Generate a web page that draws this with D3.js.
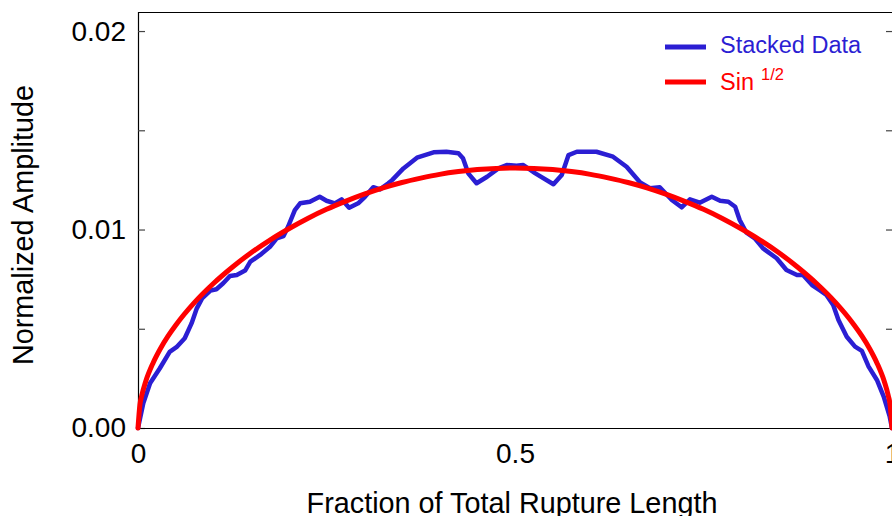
<!DOCTYPE html>
<html>
<head>
<meta charset="utf-8">
<script src="https://cdn.jsdelivr.net/npm/d3@7"></script>
<style>
  html, body { margin: 0; padding: 0; background: #fff; }
  svg { display: block; font-family: "Liberation Sans", Arial, Helvetica, sans-serif; }
</style>
</head>
<body>
<svg id="chart" width="892" height="516"></svg>
<script>
// ---- data ----
const seriesNames = ["Stacked Data", "Sin 1/2"];
const stackedX = [0, 0.007, 0.016, 0.029, 0.042, 0.051, 0.062, 0.071, 0.078, 0.085, 0.096, 0.104, 0.113, 0.122, 0.131, 0.142,
  0.149, 0.162, 0.175, 0.184, 0.193, 0.199, 0.208, 0.215, 0.228, 0.241, 0.250, 0.261, 0.270, 0.280, 0.292, 0.301,
  0.312, 0.321, 0.332, 0.337, 0.352, 0.370, 0.392, 0.409, 0.425, 0.431, 0.438, 0.449, 0.463, 0.478, 0.489, 0.502,
  0.511, 0.527, 0.551, 0.562, 0.571, 0.582, 0.608, 0.630, 0.648, 0.666, 0.679, 0.692, 0.708, 0.721, 0.732, 0.745,
  0.761, 0.772, 0.783, 0.792, 0.798, 0.807, 0.818, 0.829, 0.847, 0.860, 0.874, 0.882, 0.894, 0.905, 0.913, 0.922,
  0.929, 0.940, 0.951, 0.960, 0.969, 0.980, 0.989, 0.997, 1.0];
const stackedY = [0, 0.00124, 0.00225, 0.00301, 0.00384, 0.00407, 0.00452, 0.00527, 0.00603, 0.00653, 0.00692, 0.00699, 0.00729, 0.00766, 0.00771, 0.00793,
  0.00838, 0.00872, 0.00913, 0.00956, 0.00967, 0.01014, 0.01098, 0.01132, 0.01140, 0.01165, 0.01145, 0.01132, 0.01152, 0.01110, 0.01132, 0.01165,
  0.01213, 0.01202, 0.01233, 0.01249, 0.01308, 0.01362, 0.01389, 0.01392, 0.01384, 0.01359, 0.01283, 0.01233, 0.01266, 0.01308, 0.01325, 0.01321,
  0.01325, 0.01283, 0.01228, 0.01275, 0.01375, 0.01392, 0.01392, 0.01367, 0.01316, 0.01237, 0.01208, 0.01213, 0.01149, 0.01112, 0.01152, 0.01135,
  0.01165, 0.01145, 0.01140, 0.01115, 0.01048, 0.00984, 0.00956, 0.00905, 0.00855, 0.00796, 0.00771, 0.00771, 0.00720, 0.00692, 0.00670, 0.00620,
  0.00544, 0.00460, 0.00410, 0.00389, 0.00309, 0.00242, 0.00158, 0.00057, 0];
const sinX = [0, 0.0025, 0.005, 0.01, 0.02, 0.03, 0.04, 0.05, 0.075, 0.1, 0.125, 0.15, 0.175, 0.2, 0.225, 0.25, 0.275, 0.3,
  0.325, 0.35, 0.375, 0.4, 0.425, 0.45, 0.475, 0.5, 0.525, 0.55, 0.575, 0.6, 0.625, 0.65, 0.675, 0.7, 0.725, 0.75,
  0.775, 0.8, 0.825, 0.85, 0.875, 0.9, 0.925, 0.95, 0.96, 0.97, 0.98, 0.99, 0.995, 0.9975, 1];
const sinY = [0, 0.00116, 0.00164, 0.00232, 0.00328, 0.00402, 0.00464, 0.00518, 0.00633, 0.00728, 0.00810, 0.00883, 0.00947, 0.01004, 0.01056, 0.01102, 0.01142, 0.01178,
  0.01210, 0.01237, 0.01259, 0.01278, 0.01292, 0.01302, 0.01308, 0.01310, 0.01308, 0.01302, 0.01292, 0.01278, 0.01259, 0.01237, 0.01210, 0.01178, 0.01142, 0.01102,
  0.01056, 0.01004, 0.00947, 0.00883, 0.00810, 0.00728, 0.00633, 0.00518, 0.00464, 0.00402, 0.00328, 0.00232, 0.00164, 0.00116, 0];
const yTicks = [0, 0.005, 0.01, 0.015, 0.02];
const yTickLabels = {"0": "0.00", "0.01": "0.01", "0.02": "0.02"};
const xTicks = [0, 0.5, 1];
const xTickLabels = ["0", "0.5", "1"];
const xTitle = "Fraction of Total Rupture Length";
const yTitle = "Normalized Amplitude";

(function () {
// ---- layout ----
const svg = d3.select("#chart");
const mL = 138, mR = 892, mT = 12, mB = 428;
const x = d3.scaleLinear().domain([0, 1]).range([mL, mR]);
const y = d3.scaleLinear().domain([0, 0.021]).range([mB, 11.2]);
const BLUE = "#2b1ed3", RED = "#ff0000";
const FONT = "Liberation Sans, Arial, sans-serif";

// top box line
svg.append("line").attr("x1", mL).attr("x2", mR).attr("y1", mT + 0.5).attr("y2", mT + 0.5)
  .attr("stroke", "#000").attr("stroke-width", 1.2);

// left axis
const yAxis = d3.axisLeft(y).tickValues(yTicks).tickSize(-7).tickPadding(12)
  .tickFormat(d => yTickLabels[String(d)] || "");
const gy = svg.append("g").attr("transform", `translate(${mL},0)`).call(yAxis);
gy.select(".domain").attr("d", `M0.5,${mT}V${mB}`).attr("stroke", "#000").attr("stroke-width", 1.2);
gy.selectAll(".tick line").attr("stroke", "#444").attr("stroke-width", 1.2);
gy.selectAll(".tick text").attr("font-size", 28).attr("fill", "#000").attr("font-family", FONT);

// right ticks
const yAxisR = d3.axisRight(y).tickValues(yTicks.filter(d => d > 0)).tickSize(-6).tickFormat("");
const gyr = svg.append("g").attr("transform", `translate(${mR},0)`).call(yAxisR);
gyr.select(".domain").remove();
gyr.selectAll(".tick line").attr("stroke", "#444").attr("stroke-width", 1.2);

// bottom axis
const xAxis = d3.axisBottom(x).tickValues(xTicks).tickSize(0).tickPadding(15)
  .tickFormat((d, i) => xTickLabels[i]);
const gx = svg.append("g").attr("transform", `translate(0,${mB})`).call(xAxis);
gx.select(".domain").attr("d", `M${mL},0.5H${mR}`).attr("stroke", "#000").attr("stroke-width", 1.2);
gx.selectAll(".tick text").attr("font-size", 28).attr("fill", "#000").attr("font-family", FONT);

// titles
svg.append("text").attr("x", 512).attr("y", 513).attr("text-anchor", "middle")
  .attr("font-size", 28.8).attr("fill", "#000").text(xTitle);
svg.append("text").attr("transform", "translate(33,225) rotate(-90)").attr("text-anchor", "middle")
  .attr("font-size", 28.8).attr("fill", "#000").text(yTitle);

// lines
const line = d3.line().x(d => x(d[0])).y(d => y(d[1]));
svg.append("path").datum(stackedX.map((v, i) => [v, stackedY[i]]))
  .attr("d", line).attr("fill", "none").attr("stroke", BLUE).attr("stroke-width", 4.5)
  .attr("stroke-linejoin", "round").attr("stroke-linecap", "round");
svg.append("path").datum(sinX.map((v, i) => [v, sinY[i]]))
  .attr("d", d3.line().x(d => x(d[0])).y(d => y(d[1])).curve(d3.curveMonotoneX))
  .attr("fill", "none").attr("stroke", RED).attr("stroke-width", 5)
  .attr("stroke-linejoin", "round").attr("stroke-linecap", "round");

// legend
const lg = svg.append("g");
lg.append("line").attr("x1", 665).attr("x2", 706).attr("y1", 47).attr("y2", 47)
  .attr("stroke", BLUE).attr("stroke-width", 5);
lg.append("text").attr("x", 720).attr("y", 53).attr("font-size", 23.5).attr("fill", BLUE).text(seriesNames[0]);
lg.append("line").attr("x1", 665).attr("x2", 706).attr("y1", 82).attr("y2", 82)
  .attr("stroke", RED).attr("stroke-width", 5);
const t2 = lg.append("text").attr("x", 720).attr("y", 90).attr("font-size", 23.5).attr("fill", RED);
t2.append("tspan").text("Sin");
t2.append("tspan").attr("x", 761).attr("y", 79.5).attr("font-size", 16.5).text("1/2");
})();
</script>
</body>
</html>
